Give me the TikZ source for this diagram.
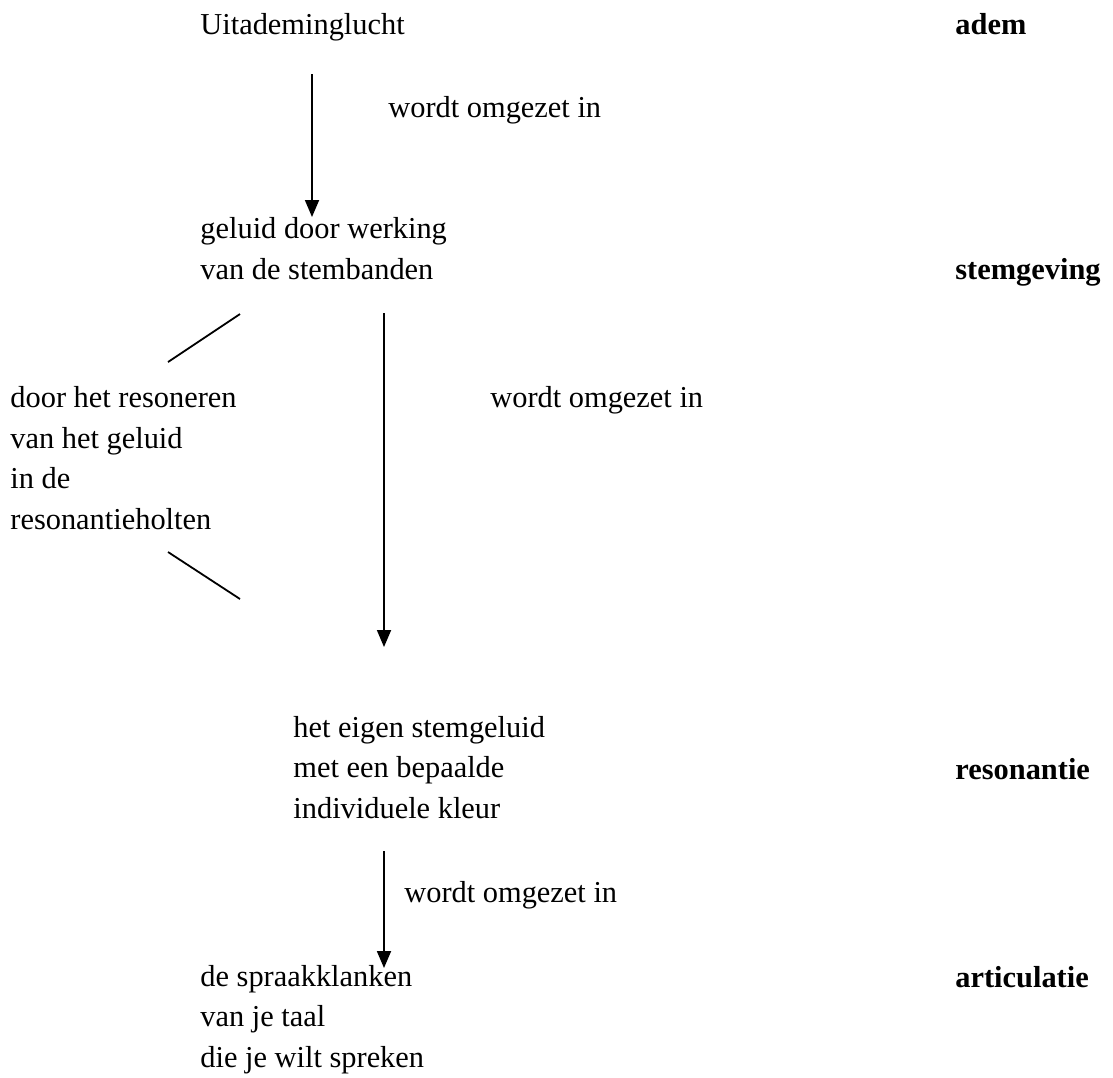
\documentclass[tikz,border=0pt]{standalone}
\usepackage{fontspec}
\setmainfont{Liberation Serif}
\usetikzlibrary{arrows.meta}

\begin{document}
\begin{tikzpicture}[
    x=0.5pt, y=-0.5pt,
    tekst/.style={
      anchor=base west,
      align=left,
      inner sep=0pt,
      font=\fontsize{15.2}{20.25}\selectfont},
    kop/.style={
      tekst,
      font=\fontsize{15.2}{20.25}\selectfont\bfseries},
    pijl/.style={
      -{Triangle[width=7pt,length=8.5pt]},
      line width=0.9pt},
    streep/.style={line width=0.9pt}
    ]

  \useasboundingbox (0,0) rectangle (1113,1077);

  % multi-line nodes sit on the baseline of their last line
  \node at (200,34) (uitadem) [tekst] {Uitademinglucht};
  \node at (955,34) (adem) [kop] {adem};

  \node at (388,117) (omzet1) [tekst] {wordt omgezet in};

  \node at (200,279) (geluid) [tekst] {geluid door werking\\van de stembanden};
  \node at (955,279) (stemgeving) [kop] {stemgeving};

  \node at (10,529) (resoneren) [tekst] {door het resoneren\\van het geluid\\in de\\resonantieholten};
  \node at (490,407) (omzet2) [tekst] {wordt omgezet in};

  \node at (293,818) (eigen) [tekst] {het eigen stemgeluid\\met een bepaalde\\individuele kleur};
  \node at (955,779) (resonantie) [kop] {resonantie};

  \node at (404,902) (omzet3) [tekst] {wordt omgezet in};

  \node at (200,1067) (klanken) [tekst] {de spraakklanken\\van je taal\\die je wilt spreken};
  \node at (955,987) (articulatie) [kop] {articulatie};

  \coordinate (p1a) at (312,74);
  \coordinate (p1b) at (312,217);
  \coordinate (p2a) at (384,313);
  \coordinate (p2b) at (384,647);
  \coordinate (p3a) at (384,851);
  \coordinate (p3b) at (384,968);

  \coordinate (s1a) at (240,314);
  \coordinate (s1b) at (168,362);
  \coordinate (s2a) at (168,552);
  \coordinate (s2b) at (240,599);

  \draw [pijl] (p1a) -- (p1b);
  \draw [pijl] (p2a) -- (p2b);
  \draw [pijl] (p3a) -- (p3b);

  \draw [streep] (s1a) -- (s1b);
  \draw [streep] (s2a) -- (s2b);

\end{tikzpicture}
\end{document}
